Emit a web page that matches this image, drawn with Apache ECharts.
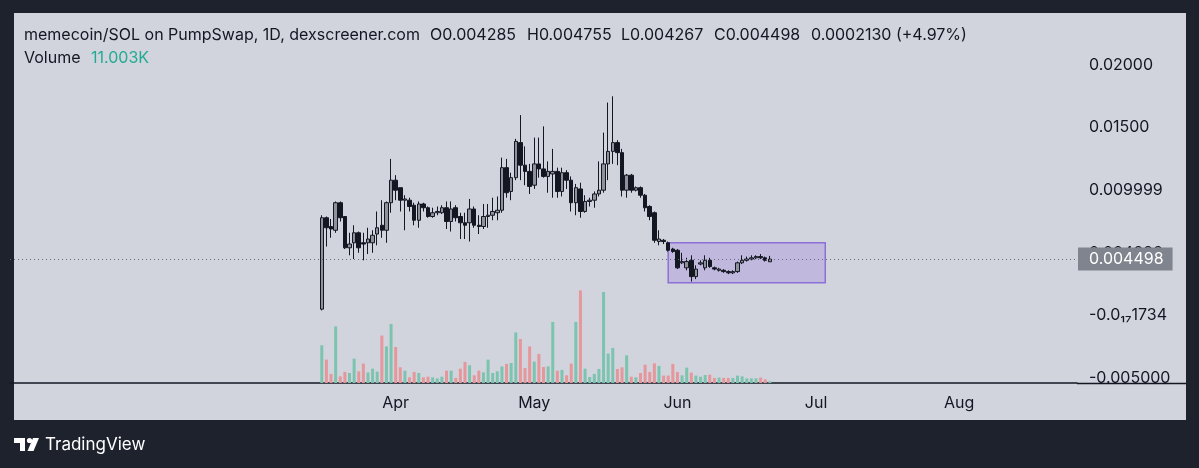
<!doctype html>
<html>
<head>
<meta charset="utf-8">
<title>memecoin/SOL 1D</title>
<script src="https://cdn.jsdelivr.net/npm/echarts@6/dist/echarts.min.js"></script>
<style>
    body{margin:0;background:#1e222d;}
    #main{width:1199px;height:468px;}
</style>
</head>
<body>
<div id="main"></div>
<script>
    // x axis runs from firstDay for dayCount days, candles start at candleStart
    var firstDay = '2025-01-08';
    var dayCount = 231;
    var candleStart = '2025-03-16';

    // daily candles
    var opens = [0.0005,0.0078,0.0071,0.0068,0.0090,0.0079,0.0054,0.0058,0.0066,0.0058,
        0.0058,0.0058,0.0065,0.0072,0.0068,0.0090,0.0108,0.0102,0.0092,0.0092,
        0.0088,0.0076,0.0089,0.0086,0.0079,0.0082,0.0082,0.0086,0.0075,0.0086,
        0.0079,0.0074,0.0074,0.0085,0.0072,0.0071,0.0079,0.0080,0.0082,0.0084,
        0.0118,0.0099,0.0110,0.0138,0.0120,0.0115,0.0104,0.0121,0.0117,0.0111,
        0.0113,0.0115,0.0099,0.0114,0.0108,0.0090,0.0101,0.0083,0.0091,0.0092,
        0.0097,0.0100,0.0121,0.0131,0.0138,0.0130,0.0100,0.0112,0.0100,0.0102,
        0.0096,0.0087,0.0082,0.0059,0.0060,0.0058,0.0053,0.0052,0.0042,0.0038,
        0.0044,0.0031,0.0041,0.0038,0.0044,0.0038,0.0036,0.0036,0.0035,0.0034,
        0.0035,0.0042,0.0044,0.0045,0.0046,0.0047,0.0046,0.004285];
    var highs = [0.0080,0.0079,0.0077,0.0091,0.0091,0.0079,0.0066,0.0072,0.0067,0.0066,
        0.0070,0.0068,0.0083,0.0092,0.0091,0.0125,0.0112,0.0102,0.0096,0.0094,
        0.0090,0.0091,0.0090,0.0087,0.0086,0.0087,0.0088,0.0091,0.0091,0.0088,
        0.0082,0.0082,0.0093,0.0087,0.0080,0.0089,0.0089,0.0094,0.0095,0.0126,
        0.0125,0.0114,0.0141,0.0160,0.0135,0.0121,0.0142,0.0142,0.0151,0.0123,
        0.0133,0.0118,0.0118,0.0116,0.0111,0.0105,0.0106,0.0096,0.0094,0.0099,
        0.0123,0.0146,0.0170,0.0175,0.0140,0.0133,0.0113,0.0113,0.0103,0.0103,
        0.0097,0.0088,0.0083,0.0068,0.0061,0.0059,0.0054,0.0053,0.0050,0.0046,
        0.0048,0.0040,0.0044,0.0048,0.0046,0.0039,0.0038,0.0037,0.0036,0.0036,
        0.0043,0.0048,0.0047,0.0048,0.0048,0.0049,0.0047,0.004755];
    var lows = [0.0004,0.0055,0.0062,0.0066,0.0075,0.0053,0.0048,0.0045,0.0050,0.0044,
        0.0049,0.0050,0.0056,0.0062,0.0058,0.0082,0.0092,0.0083,0.0068,0.0083,
        0.0072,0.0070,0.0083,0.0078,0.0078,0.0080,0.0081,0.0069,0.0067,0.0075,
        0.0061,0.0061,0.0059,0.0070,0.0065,0.0069,0.0070,0.0076,0.0076,0.0082,
        0.0094,0.0092,0.0108,0.0108,0.0104,0.0097,0.0101,0.0110,0.0110,0.0098,
        0.0094,0.0094,0.0095,0.0101,0.0083,0.0080,0.0078,0.0082,0.0087,0.0086,
        0.0095,0.0098,0.0108,0.0121,0.0120,0.0095,0.0094,0.0098,0.0099,0.0094,
        0.0083,0.0076,0.0058,0.0056,0.0057,0.0051,0.0050,0.0037,0.0041,0.0036,
        0.0027,0.0029,0.0040,0.0036,0.0038,0.0036,0.0035,0.0034,0.0033,0.0033,
        0.0034,0.0041,0.0043,0.0044,0.0045,0.0045,0.0043,0.004267];
    var closes = [0.0078,0.0070,0.0069,0.0090,0.0078,0.0054,0.0057,0.0066,0.0054,0.0057,
        0.0061,0.0064,0.0070,0.0068,0.0090,0.0108,0.0100,0.0092,0.0093,0.0087,
        0.0076,0.0089,0.0086,0.0079,0.0082,0.0083,0.0086,0.0075,0.0085,0.0078,
        0.0074,0.0072,0.0085,0.0072,0.0071,0.0079,0.0080,0.0083,0.0084,0.0118,
        0.0098,0.0110,0.0139,0.0120,0.0115,0.0103,0.0121,0.0117,0.0111,0.0115,
        0.0115,0.0099,0.0114,0.0108,0.0090,0.0102,0.0083,0.0091,0.0092,0.0097,
        0.0100,0.0121,0.0131,0.0138,0.0130,0.0100,0.0112,0.0100,0.0102,0.0096,
        0.0086,0.0079,0.0060,0.0061,0.0059,0.0052,0.0051,0.0038,0.0043,0.0043,
        0.0031,0.0037,0.0042,0.0044,0.0039,0.0037,0.0037,0.0035,0.0034,0.0035,
        0.0042,0.0044,0.0045,0.0046,0.0047,0.0046,0.0044,0.004498];
    // volume in K
    var volumes = [245,152,59,368,43,72,65,158,76,126,
        69,93,74,308,238,384,234,102,80,37,
        72,65,37,41,37,30,41,80,80,33,
        93,137,115,50,80,69,152,65,76,108,
        124,130,329,286,98,238,139,189,104,108,
        397,80,85,50,126,397,602,93,39,59,
        91,592,191,228,91,102,180,41,37,65,
        119,72,128,111,48,48,124,72,50,100,
        67,48,41,52,54,33,35,33,33,33,
        48,43,30,30,30,35,24,11.003];

    var priceTicks = [-0.005, 0, 0.005, 0.01, 0.015, 0.02];
    var priceTickLabels = ['-0.005000', '-0.0\u2081\u20871734', '0.004999', '0.009999', '0.01500', '0.02000'];
    var monthTickDates = ['2025-04-01', '2025-05-01', '2025-06-01', '2025-07-01', '2025-08-01'];
    var monthTickLabels = ['Apr', 'May', 'Jun', 'Jul', 'Aug'];
    var boxRange = {from: '2025-05-30', to: '2025-07-03', top: 0.0058, bottom: 0.0026};

    var dates = [];
    var d0 = new Date(firstDay + 'T00:00:00Z');
    for (var i = 0; i < dayCount; i++) {
        dates.push(new Date(d0.getTime() + i * 86400000).toISOString().slice(0, 10));
    }
    var offset = dates.indexOf(candleStart);

    var candleData = [], volumeData = [];
    for (var i = 0; i < dayCount; i++) {
        var k = i - offset;
        if (k >= 0 && k < opens.length) {
            candleData.push([opens[k], closes[k], lows[k], highs[k]]);
            var up = closes[k] >= opens[k];
            volumeData.push({value: volumes[k], itemStyle: {color: up ? '#7cc4b0' : '#e6979b'}});
        } else {
            candleData.push('-');
            volumeData.push('-');
        }
    }
    var lastClose = closes[closes.length - 1];

    var font = 'Inter, "Noto Sans", sans-serif';
    var ink = '#131722';

    var myChart = echarts.init(document.getElementById('main'));
    var option = {
        backgroundColor: '#1e222d',
        animation: false,
        textStyle: {fontFamily: font},
        grid: [
            {left: 10, right: 122, top: 65, height: 313, outerBoundsMode: 'none'},
            {left: 10, right: 122, top: 283, height: 100, outerBoundsMode: 'none'}
        ],
        xAxis: [
            {type: 'category', gridIndex: 0, data: dates, boundaryGap: true,
                axisLine: {show: false}, axisTick: {show: false}, axisLabel: {show: false}, splitLine: {show: false}},
            {type: 'category', gridIndex: 1, data: dates, boundaryGap: true,
                axisLine: {show: true, lineStyle: {color: ink, width: 1.5}},
                axisTick: {show: false}, splitLine: {show: false},
                axisLabel: {
                    interval: function (idx, val) { return monthTickDates.indexOf(val) >= 0; },
                    formatter: function (val) { return monthTickLabels[monthTickDates.indexOf(val)]; },
                    color: ink, fontSize: 16, margin: 12, fontFamily: font
                }}
        ],
        yAxis: [
            {type: 'value', gridIndex: 0, position: 'right', min: -0.005, max: 0.02, interval: 0.005,
                axisLine: {show: false}, axisTick: {show: false}, splitLine: {show: false},
                axisLabel: {
                    color: ink, fontSize: 16, margin: 12, align: 'left', fontFamily: font,
                    formatter: function (v) {
                        var idx = Math.round((v - priceTicks[0]) / 0.005);
                        return priceTickLabels[idx];
                    }
                }},
            {type: 'value', gridIndex: 1, min: 0, max: 650, show: false}
        ],
        series: [
            {
                name: 'Volume', type: 'bar', xAxisIndex: 1, yAxisIndex: 1,
                data: volumeData, barWidth: 3, z: 1
            },
            {
                name: 'memecoin/SOL', type: 'candlestick', xAxisIndex: 0, yAxisIndex: 0,
                data: candleData, barWidth: 4, z: 3,
                itemStyle: {color: '#8f929b', color0: ink, borderColor: ink, borderColor0: ink, borderWidth: 1},
                markLine: {
                    silent: true, symbol: ['none', 'none'], precision: 6,
                    lineStyle: {type: [1, 3], color: '#6a6d78', width: 1},
                    label: {
                        position: 'end', distance: 1, formatter: '0.004498',
                        backgroundColor: '#80848e', color: '#ffffff', fontSize: 16,
                        padding: [4, 9, 3, 11], fontFamily: font
                    },
                    data: [{yAxis: lastClose}]
                },
                markArea: {
                    silent: true,
                    itemStyle: {color: 'rgba(156,120,230,0.3)', borderColor: '#8d6fd8', borderWidth: 1.5},
                    data: [[{xAxis: boxRange.from, yAxis: boxRange.top}, {xAxis: boxRange.to, yAxis: boxRange.bottom}]]
                }
            }
        ],
        graphic: [
            {type: 'rect', z: -100, silent: true, shape: {x: 14, y: 13, width: 1172, height: 407}, style: {fill: '#d1d4dc'}},
            {type: 'line', silent: true, shape: {x1: 1077, y1: 383.5, x2: 1186, y2: 383.5}, style: {stroke: ink, lineWidth: 1.5}},
            {type: 'text', x: 24, y: 35, style: {text: 'memecoin/SOL on PumpSwap, 1D, dexscreener.com', fill: ink, font: '16px ' + font, textVerticalAlign: 'middle'}},
            {type: 'text', x: 430, y: 35, style: {text: 'O0.004285', fill: ink, font: '16px ' + font, textVerticalAlign: 'middle'}},
            {type: 'text', x: 527, y: 35, style: {text: 'H0.004755', fill: ink, font: '16px ' + font, textVerticalAlign: 'middle'}},
            {type: 'text', x: 621, y: 35, style: {text: 'L0.004267', fill: ink, font: '16px ' + font, textVerticalAlign: 'middle'}},
            {type: 'text', x: 714, y: 35, style: {text: 'C0.004498', fill: ink, font: '16px ' + font, textVerticalAlign: 'middle'}},
            {type: 'text', x: 811, y: 35, style: {text: '0.0002130 (+4.97%)', fill: ink, font: '16px ' + font, textVerticalAlign: 'middle'}},
            {type: 'text', x: 24, y: 58, style: {text: 'Volume', fill: ink, font: '16px ' + font, textVerticalAlign: 'middle'}},
            {type: 'text', x: 91, y: 58, style: {text: '11.003K', fill: '#22ab94', font: '16px ' + font, textVerticalAlign: 'middle'}},
            // TradingView logo
            {type: 'polygon', silent: true, shape: {points: [[14, 438], [25, 438], [25, 451], [20, 451], [20, 443], [14, 443]]}, style: {fill: '#ffffff'}},
            {type: 'circle', silent: true, shape: {cx: 29.5, cy: 440.5, r: 2.6}, style: {fill: '#ffffff'}},
            {type: 'polygon', silent: true, shape: {points: [[33, 438], [39, 438], [33.5, 451], [27.5, 451]]}, style: {fill: '#ffffff'}},
            {type: 'text', x: 45, y: 445, style: {text: 'TradingView', fill: '#ffffff', font: '17px ' + font, textVerticalAlign: 'middle'}}
        ]
    };
    myChart.setOption(option);
</script>
</body>
</html>
